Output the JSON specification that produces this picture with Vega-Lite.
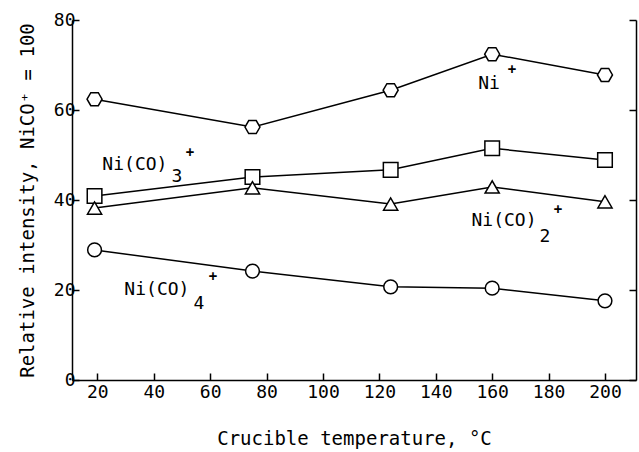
{
  "$schema": "https://vega.github.io/schema/vega-lite/v6.json",
  "width": 564,
  "height": 360,
  "autosize": {"type": "none"},
  "padding": {"left": 72, "top": 20, "right": 3, "bottom": 72},
  "background": "white",
  "config": {
    "view": {"stroke": null},
    "axis": {
      "grid": false,
      "domainColor": "black",
      "domainWidth": 1.5,
      "tickColor": "black",
      "tickWidth": 1.5,
      "labelColor": "black",
      "labelFont": "DejaVu Sans Mono",
      "labelFontSize": 18,
      "titleFont": "DejaVu Sans Mono",
      "titleFontSize": 19,
      "titleFontWeight": "normal",
      "titleColor": "black"
    }
  },
  "datasets": {
    "points": [
      {"series": "Ni+", "t": 19, "v": 62.4},
      {"series": "Ni+", "t": 75, "v": 56.2},
      {"series": "Ni+", "t": 124, "v": 64.4},
      {"series": "Ni+", "t": 160, "v": 72.4},
      {"series": "Ni+", "t": 200, "v": 67.8},
      {"series": "Ni(CO)3+", "t": 19, "v": 40.9},
      {"series": "Ni(CO)3+", "t": 75, "v": 45.1},
      {"series": "Ni(CO)3+", "t": 124, "v": 46.7},
      {"series": "Ni(CO)3+", "t": 160, "v": 51.5},
      {"series": "Ni(CO)3+", "t": 200, "v": 48.9},
      {"series": "Ni(CO)2+", "t": 19, "v": 38.2},
      {"series": "Ni(CO)2+", "t": 75, "v": 42.7},
      {"series": "Ni(CO)2+", "t": 124, "v": 39.1},
      {"series": "Ni(CO)2+", "t": 160, "v": 42.9},
      {"series": "Ni(CO)2+", "t": 200, "v": 39.6},
      {"series": "Ni(CO)4+", "t": 19, "v": 28.9},
      {"series": "Ni(CO)4+", "t": 75, "v": 24.2},
      {"series": "Ni(CO)4+", "t": 124, "v": 20.7},
      {"series": "Ni(CO)4+", "t": 160, "v": 20.4},
      {"series": "Ni(CO)4+", "t": 200, "v": 17.6}
    ],
    "labels": [
      {"text": "Ni", "part": "main", "x": 158.9, "y": 65.8},
      {"text": "+", "part": "sup", "x": 167.0, "y": 68.9},
      {"text": "Ni(CO)", "part": "main", "x": 33.3, "y": 47.8},
      {"text": "3", "part": "main", "x": 48.2, "y": 45.1},
      {"text": "+", "part": "sup", "x": 52.8, "y": 50.4},
      {"text": "Ni(CO)", "part": "main", "x": 164.2, "y": 35.3},
      {"text": "2", "part": "main", "x": 178.7, "y": 31.8},
      {"text": "+", "part": "sup", "x": 183.3, "y": 37.8},
      {"text": "Ni(CO)", "part": "main", "x": 41.1, "y": 20.0},
      {"text": "4", "part": "main", "x": 56.0, "y": 16.9},
      {"text": "+", "part": "sup", "x": 61.0, "y": 22.9}
    ]
  },
  "resolve": {"axis": {"y": "independent"}},
  "layer": [
    {
      "data": {"name": "points"},
      "mark": {"type": "line", "color": "black", "strokeWidth": 1.5},
      "encoding": {
        "x": {
          "field": "t", "type": "quantitative",
          "scale": {"domain": [11, 211], "nice": false, "zero": false},
          "axis": {"values": [20, 40, 60, 80, 100, 120, 140, 160, 180, 200], "tickSize": -7, "labelPadding": 10, "title": "Crucible temperature, °C", "titlePadding": 28}
        },
        "y": {
          "field": "v", "type": "quantitative",
          "scale": {"domain": [0, 80], "nice": false},
          "axis": {"values": [0, 20, 40, 60, 80], "tickSize": -7, "labelPadding": 4, "title": "Relative intensity, NiCO⁺ = 100", "titlePadding": 16}
        },
        "detail": {"field": "series"}
      }
    },
    {
      "data": {"name": "points"},
      "mark": {"type": "point", "filled": true, "fill": "white", "stroke": "black", "strokeWidth": 1.5, "opacity": 1},
      "encoding": {
        "x": {"field": "t", "type": "quantitative"},
        "y": {
          "field": "v", "type": "quantitative",
          "axis": {"orient": "right", "values": [0, 20, 40, 60, 80], "tickSize": -7, "labels": false, "title": null}
        },
        "shape": {
          "field": "series", "type": "nominal", "legend": null,
          "scale": {
            "domain": ["Ni+", "Ni(CO)3+", "Ni(CO)2+", "Ni(CO)4+"],
            "range": ["M-1,0L-0.5,-0.866L0.5,-0.866L1,0L0.5,0.866L-0.5,0.866Z", "square", "triangle-up", "circle"]
          }
        },
        "size": {
          "field": "series", "type": "nominal", "legend": null,
          "scale": {
            "domain": ["Ni+", "Ni(CO)3+", "Ni(CO)2+", "Ni(CO)4+"],
            "range": [225, 190, 190, 210]
          }
        }
      }
    },
    {
      "data": {"name": "labels"},
      "transform": [{"filter": "datum.part === 'main'"}],
      "mark": {"type": "text", "font": "DejaVu Sans Mono", "fontSize": 18, "color": "black", "align": "center", "baseline": "middle"},
      "encoding": {
        "x": {"field": "x", "type": "quantitative"},
        "y": {"field": "y", "type": "quantitative", "axis": null},
        "text": {"field": "text"}
      }
    },
    {
      "data": {"name": "labels"},
      "transform": [{"filter": "datum.part === 'sup'"}],
      "mark": {"type": "text", "font": "DejaVu Sans Mono", "fontSize": 14, "fontWeight": "bold", "color": "black", "align": "center", "baseline": "middle"},
      "encoding": {
        "x": {"field": "x", "type": "quantitative"},
        "y": {"field": "y", "type": "quantitative", "axis": null},
        "text": {"field": "text"}
      }
    }
  ]
}
